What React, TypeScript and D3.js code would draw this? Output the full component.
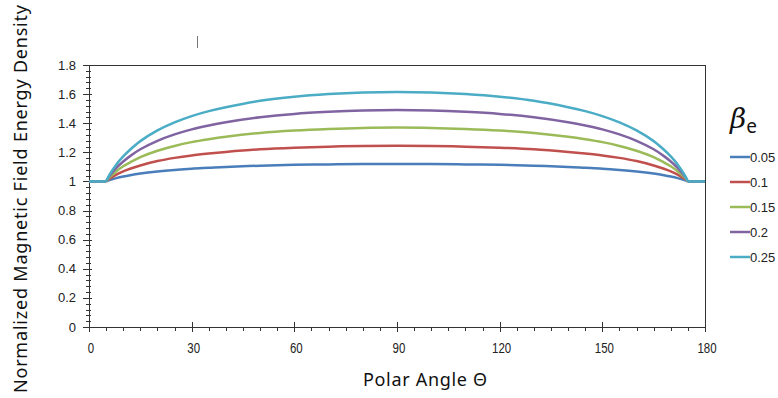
import React, { useEffect, useRef } from 'react';
import * as d3 from 'd3';

// polar angle samples (degrees)
const angles = [0, 5, 6, 8, 10, 12, 15, 20, 25, 30, 35, 40, 50, 60, 70, 80, 90,
  100, 110, 120, 130, 140, 145, 150, 155, 160, 165, 168, 170, 172, 174, 175, 180];

// normalized energy density per beta_e
const b005 = [1, 1, 1.009, 1.023, 1.034, 1.043, 1.054, 1.068, 1.079, 1.088, 1.094, 1.100, 1.108, 1.114, 1.117, 1.119, 1.12,
  1.119, 1.117, 1.114, 1.108, 1.100, 1.094, 1.088, 1.079, 1.068, 1.054, 1.043, 1.034, 1.023, 1.009, 1, 1];
const b010 = [1, 1, 1.018, 1.047, 1.069, 1.087, 1.110, 1.140, 1.162, 1.179, 1.192, 1.203, 1.221, 1.232, 1.239, 1.244, 1.245,
  1.244, 1.239, 1.232, 1.221, 1.203, 1.192, 1.179, 1.162, 1.140, 1.110, 1.087, 1.069, 1.047, 1.018, 1, 1];
const b015 = [1, 1, 1.028, 1.070, 1.104, 1.131, 1.167, 1.211, 1.244, 1.270, 1.290, 1.307, 1.333, 1.350, 1.361, 1.368, 1.37,
  1.368, 1.361, 1.350, 1.333, 1.307, 1.290, 1.270, 1.244, 1.211, 1.167, 1.131, 1.104, 1.070, 1.028, 1, 1];
const b020 = [1, 1, 1.037, 1.093, 1.137, 1.174, 1.221, 1.279, 1.323, 1.358, 1.385, 1.407, 1.441, 1.464, 1.478, 1.487, 1.49,
  1.487, 1.478, 1.464, 1.441, 1.407, 1.385, 1.358, 1.323, 1.279, 1.221, 1.174, 1.137, 1.093, 1.037, 1, 1];
const b025 = [1, 1, 1.046, 1.117, 1.172, 1.218, 1.277, 1.351, 1.406, 1.449, 1.483, 1.510, 1.554, 1.582, 1.600, 1.611, 1.615,
  1.611, 1.600, 1.582, 1.554, 1.510, 1.483, 1.449, 1.406, 1.351, 1.277, 1.218, 1.172, 1.117, 1.046, 1, 1];

const seriesNames = ['0.05', '0.1', '0.15', '0.2', '0.25'];
const seriesValues = [b005, b010, b015, b020, b025];
const colors = ['#4A7EBB', '#C0504D', '#9BBB59', '#8064A2', '#4BACC6'];

const xTicks = [0, 30, 60, 90, 120, 150, 180];
const yTicks = [0, 0.2, 0.4, 0.6, 0.8, 1, 1.2, 1.4, 1.6, 1.8];

const W = 778, H = 398;
const plot = { left: 89, right: 705, top: 65, bottom: 327 };

const App = () => {
  const svgRef = useRef<SVGSVGElement>(null);

  useEffect(() => {
    const svg = d3.select(svgRef.current);
    svg.selectAll('*').remove();

    const x = d3.scaleLinear().domain([0, 180]).range([plot.left, plot.right]);
    const y = d3.scaleLinear().domain([0, 1.8]).range([plot.bottom, plot.top]);
    const axisColor = '#333';
    const px = (v: number) => Math.round(v) + 0.5;

    // plot box
    svg.append('rect')
      .attr('x', px(plot.left)).attr('y', px(plot.top))
      .attr('width', Math.round(plot.right - plot.left)).attr('height', Math.round(plot.bottom - plot.top))
      .attr('fill', 'none').attr('stroke', axisColor).attr('stroke-width', 1);

    // y ticks
    const yMinor = d3.range(0, 1.8001, 0.04);
    svg.append('g').selectAll('line').data(yMinor).join('line')
      .attr('x1', plot.left - 3).attr('x2', plot.left + 2)
      .attr('y1', d => px(y(d))).attr('y2', d => px(y(d)))
      .attr('stroke', axisColor);
    svg.append('g').selectAll('line').data(yTicks).join('line')
      .attr('x1', plot.left - 6).attr('x2', plot.left + 3)
      .attr('y1', d => px(y(d))).attr('y2', d => px(y(d)))
      .attr('stroke', axisColor);
    svg.append('g').selectAll('text').data(yTicks).join('text')
      .attr('x', plot.left - 13).attr('y', d => y(d) + 4.5)
      .attr('text-anchor', 'end')
      .style('font-family', 'Liberation Sans, Arial, sans-serif')
      .style('font-size', '13px').style('fill', '#222')
      .text(d => d3.format('~g')(d));

    // x ticks
    const xMinor = d3.range(0, 181, 5);
    svg.append('g').selectAll('line').data(xMinor).join('line')
      .attr('x1', d => px(x(d))).attr('x2', d => px(x(d)))
      .attr('y1', plot.bottom).attr('y2', plot.bottom + 4)
      .attr('stroke', axisColor);
    svg.append('g').selectAll('line').data(xTicks).join('line')
      .attr('x1', d => px(x(d))).attr('x2', d => px(x(d)))
      .attr('y1', plot.bottom - 5).attr('y2', plot.bottom + 5)
      .attr('stroke', axisColor);
    svg.append('g').selectAll('text').data(xTicks).join('text')
      .attr('transform', d => `translate(${x(d) + 2},${plot.bottom + 26}) scale(0.82,1)`)
      .attr('text-anchor', 'middle')
      .style('font-family', 'Liberation Sans, Arial, sans-serif')
      .style('font-size', '14px').style('fill', '#222')
      .text(d => d);

    // series lines: flat parts linear, the rest smooth
    const smooth = d3.line<number>()
      .x((d, i) => x(angles[i + 1]))
      .y(d => y(d))
      .curve(d3.curveCatmullRom.alpha(0.5));
    seriesValues.forEach((vals, k) => {
      const n = vals.length;
      const g = svg.append('g')
        .attr('fill', 'none').attr('stroke', colors[k]).attr('stroke-width', 2.5);
      g.append('path').attr('d', smooth(vals.slice(1, n - 1)));
      g.append('path').attr('d', d3.line<number>().x((d, i) => x(angles[i])).y(d => y(d))(vals.slice(0, 2)));
      g.append('path').attr('d', d3.line<number>().x((d, i) => x(angles[n - 2 + i])).y(d => y(d))(vals.slice(n - 2)));
    });

    // axis titles
    svg.append('text')
      .attr('transform', `translate(27,199) rotate(-90)`)
      .attr('text-anchor', 'middle')
      .attr('textLength', 388).attr('lengthAdjust', 'spacing')
      .style('font-family', 'Noto Sans, sans-serif')
      .style('font-size', '18px').style('fill', '#111')
      .text('Normalized Magnetic Field Energy Density');
    svg.append('text')
      .attr('x', 425).attr('y', 386)
      .attr('text-anchor', 'middle')
      .attr('textLength', 124).attr('lengthAdjust', 'spacing')
      .style('font-family', 'Noto Sans, sans-serif')
      .style('font-size', '18px').style('fill', '#111')
      .text('Polar Angle  \u0398');

    // legend
    const lg = svg.append('g');
    const bt = lg.append('text').attr('x', 730).attr('y', 128)
      .style('font-family', 'DejaVu Serif, serif').style('fill', '#111');
    bt.append('tspan').style('font-size', '28px').style('font-style', 'italic').text('\u03B2');
    bt.append('tspan').attr('dy', 5).style('font-size', '19px')
      .style('font-family', 'Noto Sans, sans-serif').text('e');

    seriesNames.forEach((name, k) => {
      const yy = 157 + k * 25;
      lg.append('line')
        .attr('x1', 730).attr('x2', 750).attr('y1', yy).attr('y2', yy)
        .attr('stroke', colors[k]).attr('stroke-width', 2.5);
      lg.append('text')
        .attr('x', 750).attr('y', yy + 5)
        .style('font-family', 'Liberation Sans, Arial, sans-serif')
        .style('font-size', '13px').style('fill', '#222')
        .text(name);
    });

    // stray cursor mark
    svg.append('line')
      .attr('x1', 197.5).attr('x2', 197.5).attr('y1', 36).attr('y2', 48)
      .attr('stroke', '#777').attr('stroke-width', 1);
  }, []);

  return (
    <svg ref={svgRef} width={W} height={H}
      style={{ position: 'absolute', left: 0, top: 0, background: '#fff' }} />
  );
};

export default App;
